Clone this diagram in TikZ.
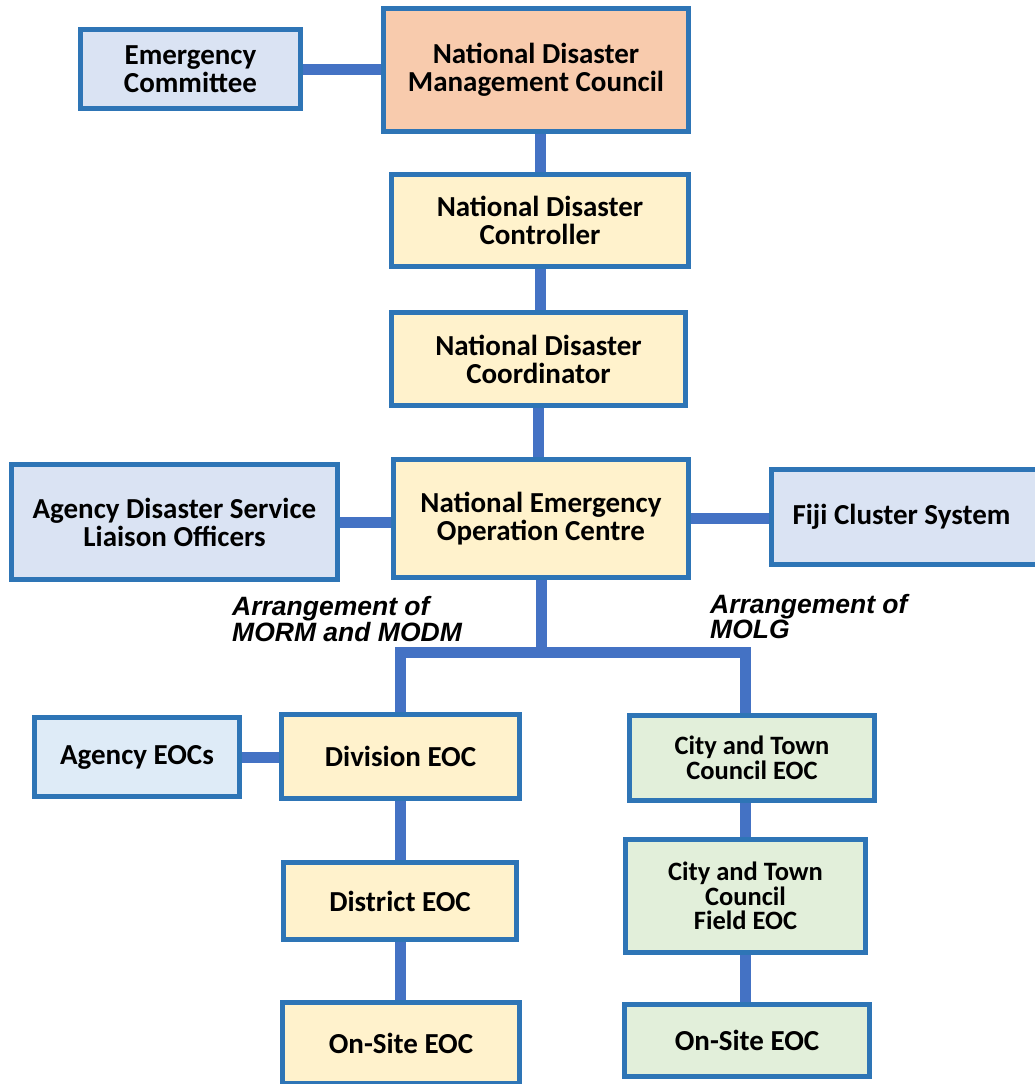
\documentclass[tikz,border=0pt]{standalone}
\usepackage{fontspec}
\usetikzlibrary{backgrounds}
\setmainfont{Carlito}
\newfontfamily\labelfont{Liberation Sans}
\definecolor{edge}{HTML}{2E75B6}
\definecolor{link}{HTML}{4472C4}
\definecolor{peach}{HTML}{F8CBAD}
\definecolor{cream}{HTML}{FFF2CC}
\definecolor{lilac}{HTML}{DAE3F3}
\definecolor{sky}{HTML}{DEEBF7}
\definecolor{mint}{HTML}{E2EFDA}
\tikzset{
  box/.style={draw=edge, line width=5pt, inner sep=0pt, align=center,
    font=\fontsize{29}{28}\selectfont\bfseries},
  smallbox/.style={box, font=\fontsize{26.5}{24.5}\selectfont\bfseries},
  conn/.style={draw=link, line width=11pt},
  note/.style={anchor=north west, inner sep=0pt, align=left,
    font=\fontsize{26.5}{24}\selectfont\labelfont\bfseries\itshape},
}
% outer size W x H -> minimum size W-5 x H-5
\newcommand{\orgbox}[7]{%
  \node[#1, fill=#2, minimum width=#5pt-5pt, minimum height=#6pt-5pt] (#3) at #4 {#7};}
\begin{document}
\begin{tikzpicture}[x=1pt, y=-1pt]
\useasboundingbox (0,0) rectangle (1035,1084);
% boxes
\orgbox{box}{lilac}{ec}{(190.5,69)}{225}{84}{Emergency\\Committee}
\orgbox{box}{peach}{ndmc}{(536,70)}{310}{128}{National Disaster\\Management Council}
\orgbox{box}{cream}{ctrl}{(540,220.5)}{302}{97}{National Disaster\\Controller}
\orgbox{box}{cream}{coord}{(538.5,359)}{299}{98}{National Disaster\\Coordinator}
\orgbox{box}{cream}{neoc}{(541,518.5)}{300}{123}{National Emergency\\Operation Centre}
\orgbox{box}{lilac}{adslo}{(174.5,522)}{331}{120}{Agency Disaster Service\\Liaison Officers}
\orgbox{box}{lilac}{fiji}{(904.5,517)}{271}{100}{\hspace*{-6pt}Fiji Cluster System}
\orgbox{box}{sky}{aeoc}{(137,757)}{210}{84}{Agency EOCs}
\orgbox{box}{cream}{div}{(400.5,756.5)}{243}{89}{Division EOC}
\orgbox{box}{cream}{dist}{(400,901)}{238}{82}{District EOC}
\orgbox{box}{cream}{osl}{(401,1043)}{242}{86}{On-Site EOC}
\orgbox{smallbox}{mint}{city}{(752,758)}{250}{90}{City and Town\\Council EOC}
\orgbox{smallbox}{mint}{field}{(745.5,896)}{245}{118}{City and Town\\Council\\Field EOC}
\orgbox{box}{mint}{osr}{(747,1040.5)}{250}{77}{On-Site EOC}
% labels
\node[note] (lnote) at (232,596) {Arrangement of\\MORM and MODM};
\node[note] (rnote) at (710,594) {Arrangement of\\MOLG};
% junction points of the tree
\coordinate (lj) at (400,652);
\coordinate (rj) at (745,652);
% connectors, behind the boxes
\begin{scope}[on background layer]
  \draw[conn] (ec.east) -- (ec.east -| ndmc.west);
  \draw[conn] (ctrl.north) -- (ctrl.north |- ndmc.south);
  \draw[conn] (ctrl.south) -- (ctrl.south |- coord.north);
  \draw[conn] (coord.south) -- (coord.south |- neoc.north);
  \draw[conn] (adslo.east) -- (adslo.east -| neoc.west);
  \draw[conn] (neoc.east) -- (neoc.east -| fiji.west);
  \draw[conn] (neoc.south) -- (neoc.south |- lj);
  \draw[conn] (lj |- div.north) -- (lj) -- (rj) -- (rj |- city.north);
  \draw[conn] (aeoc.east) -- (aeoc.east -| div.west);
  \draw[conn] (div.south) -- (div.south |- dist.north);
  \draw[conn] (dist.south) -- (dist.south |- osl.north);
  \draw[conn] (rj |- city.south) -- (rj |- field.north);
  \draw[conn] (rj |- field.south) -- (rj |- osr.north);
\end{scope}
\end{tikzpicture}
\end{document}
